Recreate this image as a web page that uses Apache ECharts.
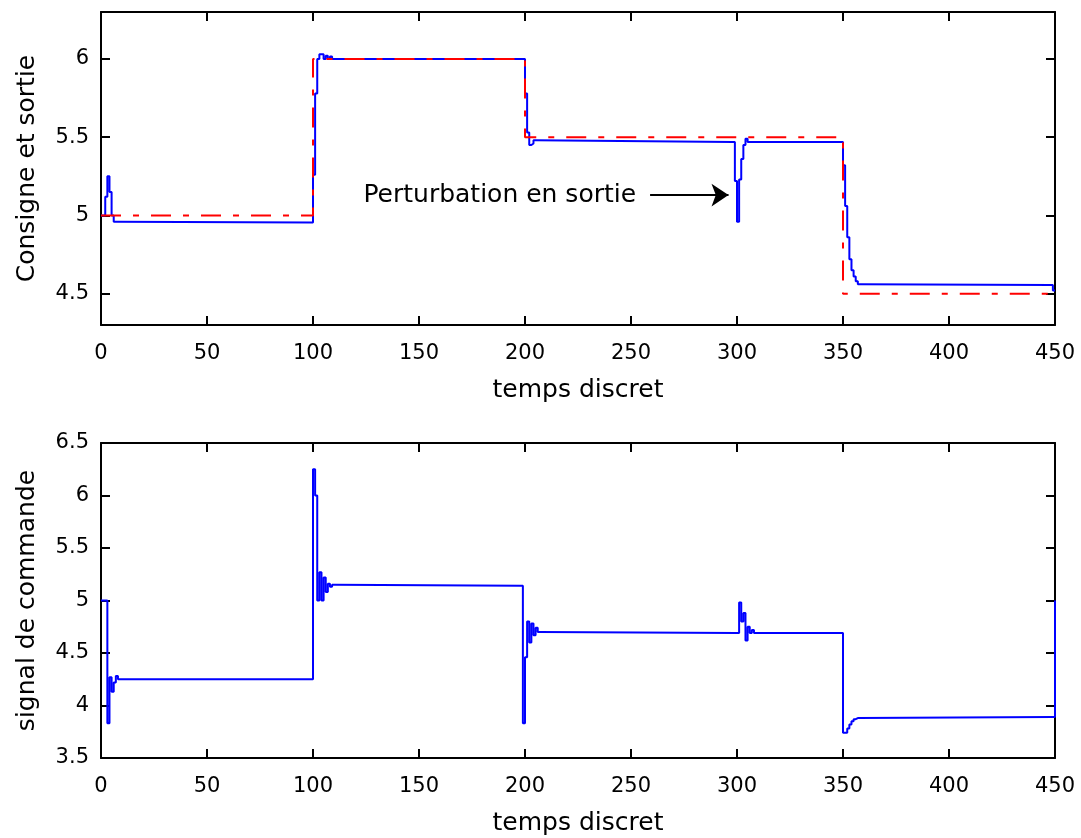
<!DOCTYPE html>
<html>
<head>
<meta charset="utf-8">
<script src="https://cdn.jsdelivr.net/npm/echarts@6/dist/echarts.min.js"></script>
<style>
html,body{margin:0;padding:0;background:#fff;}
#chart{width:1081px;height:838px;}
</style>
</head>
<body>
<div id="chart"></div>
<script>
// ---------- data ----------
// top plot: set-point (red dash-dot), each value held until the next sample
const setX = [0, 100, 200, 350, 450];
const setY = [5, 6, 5.5, 4.5, 4.5];
// top plot: process output (blue), sampled signal (value held until next sample)
const outX = [0,1,2,3,4,5,6,7,
  99,100,101,102,103,104,105,106,107,108,109,110,
  199,200,201,202,203,204,205,
  298,299,300,301,302,303,304,305,
  349,350,351,352,353,354,355,356,357,358,
  448,449,450];
const outY = [5.0,5.0,5.12,5.25,5.15,5.0,4.96,4.955,
  4.955,5.26,5.78,6.0,6.03,6.03,6.0,6.02,6.0,6.015,6.0,6.0,
  6.0,5.78,5.53,5.45,5.46,5.48,5.47,
  5.47,5.22,4.96,5.23,5.36,5.45,5.49,5.47,
  5.47,5.32,5.06,4.86,4.72,4.65,4.61,4.58,4.56,4.555,
  4.555,4.52,4.52];
// bottom plot: control signal (blue)
const cmdX = [0,3,4,5,6,7,8,
  99,100,101,102,103,104,105,106,107,108,109,110,
  198,199,200,201,202,203,204,205,206,207,
  300,301,302,303,304,305,306,307,308,
  349,350,351,352,353,354,355,356,357,
  449,450];
const cmdY = [5.0,3.83,4.27,4.13,4.22,4.28,4.25,
  4.25,6.25,6.0,5.0,5.27,5.0,5.22,5.08,5.16,5.13,5.15,5.14,
  5.14,3.83,4.46,4.8,4.6,4.78,4.67,4.74,4.7,4.69,
  4.69,4.98,4.8,4.88,4.62,4.75,4.69,4.72,4.69,
  4.69,3.74,3.74,3.78,3.82,3.85,3.87,3.88,3.89,
  3.89,5.0];
// tick labels
const xTicks = [0,50,100,150,200,250,300,350,400,450];
const yTicksTop = [4.5,5,5.5,6];
const yTicksBottom = [3.5,4,4.5,5,5.5,6,6.5];
// texts
const xName = 'temps discret';
const yNameTop = 'Consigne et sortie';
const yNameBottom = 'signal de commande';
const annText = 'Perturbation en sortie';
const annArrowFrom = [259, 5.13];
const annArrowTo = [296, 5.13];

// ---------- chart ----------
const FONT = 'DejaVu Sans';
const black = '#000';
// zero-order hold: each sample value is kept until the next sample instant
function stairs(xs, ys) {
  const pts = [];
  for (let i = 0; i < xs.length; i++) {
    pts.push([xs[i], ys[i]]);
    if (i < xs.length - 1) pts.push([xs[i + 1], ys[i]]);
  }
  return pts;
}

function xAx(grid, pos, labels, withName) {
  return {
    gridIndex: grid, type: 'value', position: pos,
    min: xTicks[0], max: xTicks[xTicks.length-1], interval: xTicks[1]-xTicks[0],
    axisLine: {show: true, onZero: false, lineStyle: {color: black, width: 2}},
    axisTick: {show: true, inside: true, length: 9, lineStyle: {color: black, width: 2}},
    axisLabel: {show: labels, color: black, fontFamily: FONT, fontSize: 21, margin: 18},
    splitLine: {show: false},
    name: withName ? xName : '', nameLocation: 'middle', nameGap: 53,
    nameTextStyle: {color: black, fontFamily: FONT, fontSize: 25}
  };
}
function yAx(grid, pos, ticks, min, max, labels, name) {
  return {
    gridIndex: grid, type: 'value', position: pos, min: min, max: max,
    axisLine: {show: true, onZero: false, lineStyle: {color: black, width: 2}},
    axisTick: {show: true, inside: true, length: 9, customValues: ticks, lineStyle: {color: black, width: 2}},
    axisLabel: {show: labels, customValues: ticks, color: black, fontFamily: FONT, fontSize: 21, margin: 12,
      formatter: v => String(+v.toFixed(2))},
    splitLine: {show: false},
    name: name || '', nameLocation: 'middle', nameGap: 61, nameRotate: 90,
    nameTextStyle: {color: black, fontFamily: FONT, fontSize: 25}
  };
}

const chart = echarts.init(document.getElementById('chart'), null, {renderer: 'canvas'});
chart.setOption({
  animation: false,
  backgroundColor: '#fff',
  grid: [
    {left: 101, right: 26, top: 12, height: 313},
    {left: 101, right: 26, top: 443, height: 315}
  ],
  xAxis: [
    xAx(0, 'bottom', true, true),
    xAx(0, 'top', false, false),
    xAx(1, 'bottom', true, true),
    xAx(1, 'top', false, false)
  ],
  yAxis: [
    yAx(0, 'left', yTicksTop, 4.3, 6.3, true, yNameTop),
    yAx(0, 'right', yTicksTop, 4.3, 6.3, false, ''),
    yAx(1, 'left', yTicksBottom, yTicksBottom[0], yTicksBottom[yTicksBottom.length-1], true, yNameBottom),
    yAx(1, 'right', yTicksBottom, yTicksBottom[0], yTicksBottom[yTicksBottom.length-1], false, '')
  ],
  series: [
    {
      name: 'sortie', type: 'line', xAxisIndex: 0, yAxisIndex: 0,
      data: stairs(outX, outY), symbol: 'none', silent: true,
      lineStyle: {color: '#0000ff', width: 2}, z: 2
    },
    {
      name: 'consigne', type: 'line', xAxisIndex: 0, yAxisIndex: 0,
      data: stairs(setX, setY), symbol: 'none', silent: true,
      lineStyle: {color: '#ff0000', width: 2, type: [20, 12, 6, 12]}, z: 3,
      markLine: {
        silent: true, symbol: ['none', 'arrow'], symbolSize: 17,
        lineStyle: {color: black, width: 2, type: 'solid'},
        label: {show: true, position: 'start', distance: 14, formatter: annText,
          color: black, fontFamily: FONT, fontSize: 25},
        data: [[{coord: annArrowFrom}, {coord: annArrowTo}]]
      }
    },
    {
      name: 'commande', type: 'line', xAxisIndex: 2, yAxisIndex: 2,
      data: stairs(cmdX, cmdY), symbol: 'none', silent: true,
      lineStyle: {color: '#0000ff', width: 2}, z: 2
    }
  ]
});
</script>
</body>
</html>
